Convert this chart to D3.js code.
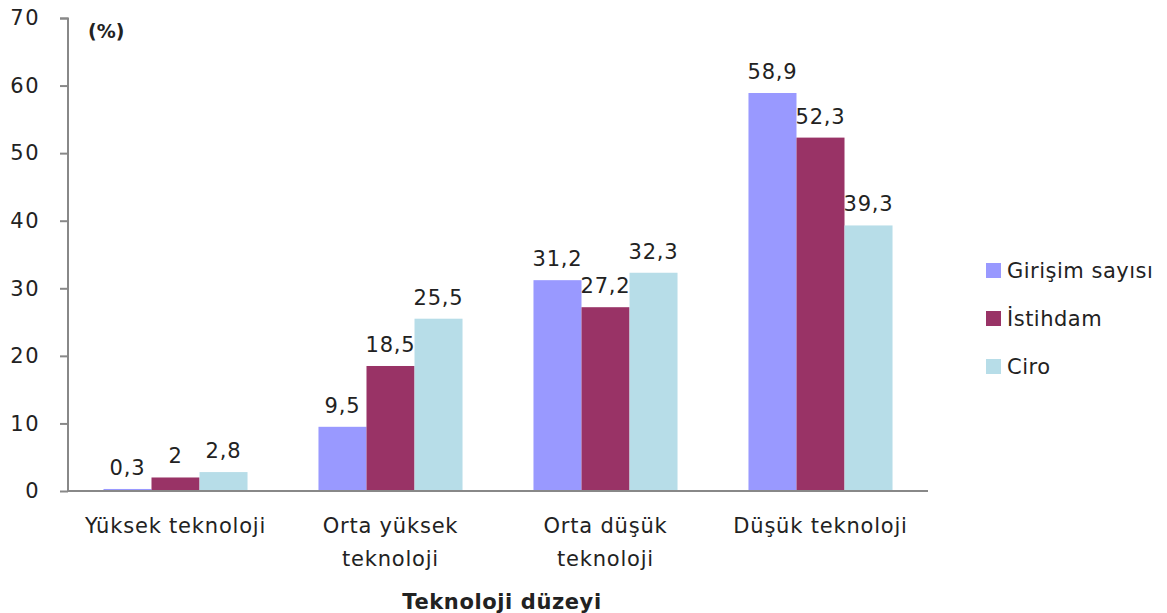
<!DOCTYPE html>
<html>
<head>
<meta charset="utf-8">
<script src="https://cdn.jsdelivr.net/npm/d3@7/dist/d3.min.js"></script>
<style>
  body { margin: 0; background: #fff; }
  text { font-family: "DejaVu Sans", sans-serif; fill: #222; }
</style>
</head>
<body>
<svg id="chart" width="1167" height="613"></svg>
<script>
// chart data
var categories = [["Yüksek teknoloji"], ["Orta yüksek", "teknoloji"], ["Orta düşük", "teknoloji"], ["Düşük teknoloji"]];
var seriesNames = ["Girişim sayısı", "İstihdam", "Ciro"];
var girisim = [0.3, 9.5, 31.2, 58.9];
var istihdam = [2, 18.5, 27.2, 52.3];
var ciro = [2.8, 25.5, 32.3, 39.3];
var yTicks = [0, 10, 20, 30, 40, 50, 60, 70];
var colors = ["#9999ff", "#993366", "#b7dde8"];

var series = [girisim, istihdam, ciro];

var svg = d3.select("#chart");
var margin = {top: 18, left: 68, right: 239, bottom: 122},
    width = 1167 - margin.left - margin.right,
    height = 613 - margin.top - margin.bottom;

var g = svg.append("g").attr("transform", "translate(" + margin.left + "," + margin.top + ")");

var x0 = d3.scaleBand()
    .domain(d3.range(categories.length))
    .range([0, width])
    .paddingInner(0.33)
    .paddingOuter(0.165);

var x1 = d3.scaleBand()
    .domain(d3.range(series.length))
    .range([0, x0.bandwidth()]);

var y = d3.scaleLinear().domain([0, 70]).range([height, 0]);

// y axis
var yAxis = g.append("g")
    .call(d3.axisLeft(y).tickValues(yTicks).tickSize(8).tickPadding(20).tickFormat(d3.format("d")));
yAxis.selectAll("path, line").attr("stroke", "#888").attr("stroke-width", 2);
yAxis.select(".domain").attr("d", "M-8,0.5H0V" + height);
yAxis.selectAll("text").style("font-size", "21px").style("letter-spacing", "1.5px").attr("fill", "#222");

// bars
var groups = g.selectAll(".grp")
    .data(categories)
    .enter().append("g")
    .attr("transform", function(d, i) { return "translate(" + x0(i) + ",0)"; });

groups.selectAll("rect")
    .data(function(d, i) { return series.map(function(s, j) { return {s: j, v: s[i]}; }); })
    .enter().append("rect")
    .attr("x", function(d) { return x1(d.s); })
    .attr("width", x1.bandwidth())
    .attr("y", function(d) { return y(d.v); })
    .attr("height", function(d) { return height - y(d.v); })
    .attr("fill", function(d) { return colors[d.s]; });

groups.selectAll(".lbl")
    .data(function(d, i) { return series.map(function(s, j) { return {s: j, v: s[i]}; }); })
    .enter().append("text")
    .attr("x", function(d) { return x1(d.s) + x1.bandwidth() / 2; })
    .attr("y", function(d) { return y(d.v) - 14; })
    .attr("text-anchor", "middle")
    .style("font-size", "21px").style("letter-spacing", "0.8px")
    .text(function(d) { return String(d.v).replace(".", ","); });

// x axis
g.append("line")
    .attr("x1", 0).attr("x2", width)
    .attr("y1", height).attr("y2", height)
    .attr("stroke", "#888").attr("stroke-width", 2);

groups.append("text")
    .attr("text-anchor", "middle")
    .attr("x", x0.bandwidth() / 2)
    .attr("y", height + 42)
    .style("font-size", "21px").style("letter-spacing", "0.8px")
    .selectAll("tspan")
    .data(function(d) { return d; })
    .enter().append("tspan")
    .attr("x", x0.bandwidth() / 2)
    .attr("dy", function(d, i) { return i ? 33 : 0; })
    .text(function(d) { return d; });

// axis titles
g.append("text")
    .attr("x", 20).attr("y", 20)
    .style("font-size", "19px").style("font-weight", "bold")
    .text("(%)");

svg.append("text")
    .attr("x", 502).attr("y", 609)
    .attr("text-anchor", "middle")
    .style("font-size", "21px").style("font-weight", "bold").style("letter-spacing", "0.6px")
    .text("Teknoloji düzeyi");

// legend
var legend = svg.selectAll(".leg")
    .data(seriesNames)
    .enter().append("g")
    .attr("transform", function(d, i) { return "translate(986," + (263 + i * 48) + ")"; });

legend.append("rect")
    .attr("width", 15).attr("height", 15)
    .attr("fill", function(d, i) { return colors[i]; });

legend.append("text")
    .attr("x", 21).attr("y", 15)
    .style("font-size", "21px").style("letter-spacing", "0.5px")
    .text(function(d) { return d; });
</script>
</body>
</html>
